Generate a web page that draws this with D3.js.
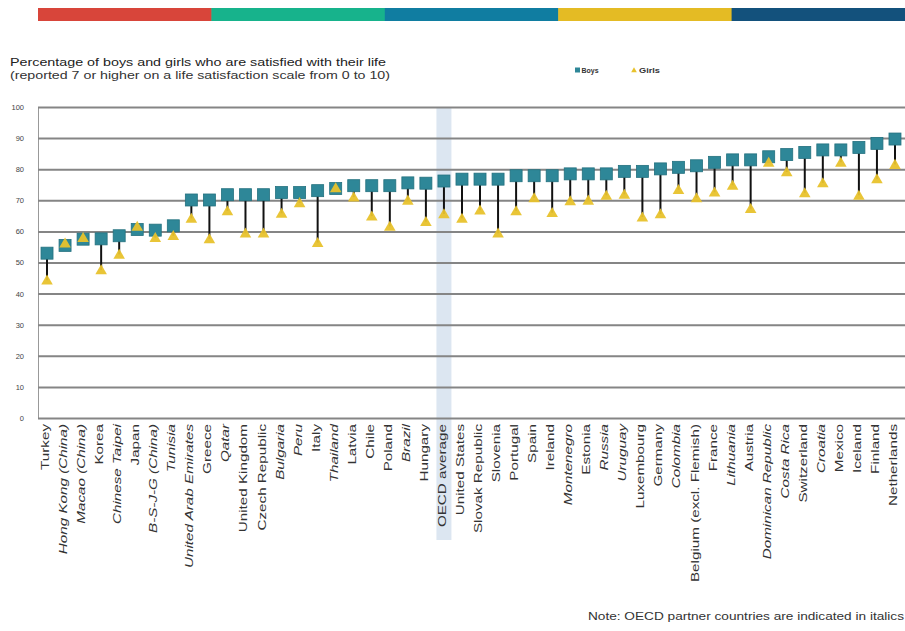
<!DOCTYPE html>
<html>
<head>
<meta charset="utf-8">
<script src="https://cdn.jsdelivr.net/npm/d3@7"></script>
<style>
  html, body { margin: 0; padding: 0; background: #fff; }
  svg { display: block; font-family: "Liberation Sans", Arial, sans-serif; }
</style>
</head>
<body>
<svg id="chart" width="905" height="631"></svg>
<script>
// Countries, ordered by boys' share
const countries = [
  "Turkey", "Hong Kong (China)", "Macao (China)", "Korea", "Chinese Taipei", "Japan",
  "B-S-J-G (China)", "Tunisia", "United Arab Emirates", "Greece", "Qatar", "United Kingdom",
  "Czech Republic", "Bulgaria", "Peru", "Italy", "Thailand", "Latvia", "Chile", "Poland",
  "Brazil", "Hungary", "OECD average", "United States", "Slovak Republic", "Slovenia",
  "Portugal", "Spain", "Ireland", "Montenegro", "Estonia", "Russia", "Uruguay", "Luxembourg",
  "Germany", "Colombia", "Belgium (excl. Flemish)", "France", "Lithuania", "Austria",
  "Dominican Republic", "Costa Rica", "Switzerland", "Croatia", "Mexico", "Iceland",
  "Finland", "Netherlands"
];

// Partner (non-OECD) economies, set in italics
const partners = [
  "Hong Kong (China)", "Macao (China)", "Chinese Taipei", "B-S-J-G (China)", "Tunisia",
  "United Arab Emirates", "Qatar", "Bulgaria", "Peru", "Thailand", "Brazil", "Montenegro",
  "Russia", "Uruguay", "Colombia", "Lithuania", "Dominican Republic", "Costa Rica", "Croatia"
];

// Percentage satisfied with life (7+ on 0-10 scale)
const boys = [
  53.0, 55.5, 57.5, 57.6, 58.6, 60.6, 60.4, 61.8, 70.1, 70.1, 71.8, 71.8,
  71.8, 72.5, 72.5, 73.1, 73.8, 74.7, 74.7, 74.7, 75.6, 75.5, 76.2, 76.8,
  76.8, 76.8, 77.9, 77.9, 77.9, 78.5, 78.5, 78.5, 79.3, 79.3, 80.1, 80.6,
  81.1, 82.2, 83.0, 83.0, 84.0, 84.7, 85.4, 86.2, 86.2, 87.0, 88.3, 89.7
];
const girls = [
  44.3, 56.2, 58.0, 47.6, 52.6, 61.6, 58.0, 58.6, 64.2, 57.6, 66.6, 59.4,
  59.4, 65.8, 69.2, 56.4, 74.0, 71.0, 64.9, 61.6, 70.0, 63.1, 65.6, 64.2,
  66.8, 59.4, 66.6, 70.8, 66.0, 69.8, 70.0, 71.6, 71.9, 64.6, 65.6, 73.4,
  70.8, 72.6, 74.8, 67.3, 82.2, 79.1, 72.4, 75.6, 82.2, 71.6, 76.9, 81.5
];

const yTicks = [0, 10, 20, 30, 40, 50, 60, 70, 80, 90, 100];
const stripeColors = ["#d8453a", "#17b38c", "#107da1", "#e4bb24", "#13517c"];

const titleLines = [
  "Percentage of boys and girls who are satisfied with their life",
  "(reported 7 or higher on a life satisfaction scale from 0 to 10)"
];
const legendLabels = ["Boys", "Girls"];
const note = "Note: OECD partner countries are indicated in italics";

const boyColor = "#2e8798";
const boyStroke = "#24717f";
const girlColor = "#e8c22c";

const svg = d3.select("#chart");
const plot = { left: 38, right: 904, top: 107, bottom: 418 };

const x = d3.scaleBand().domain(countries).range([plot.left, plot.right]).padding(0);
const y = d3.scaleLinear().domain([0, 100]).range([plot.bottom, plot.top]);
const cx = c => x(c) + x.bandwidth() / 2;

// Decorative stripe across the top
const stripe = d3.scaleBand().domain(d3.range(stripeColors.length)).range([38, 905]);
svg.append("g").selectAll("rect").data(stripeColors).join("rect")
  .attr("x", (d, i) => stripe(i)).attr("y", 8)
  .attr("width", stripe.bandwidth() + 0.5).attr("height", 13)
  .attr("fill", d => d);

// Title
svg.append("g").selectAll("text").data(titleLines).join("text")
  .attr("x", 10).attr("y", (d, i) => 66 + i * 12.5)
  .attr("font-size", 10.5).attr("fill", (d, i) => i === 0 ? "#222" : "#333")
  .attr("textLength", (d, i) => i === 0 ? 376 : 380)
  .attr("lengthAdjust", "spacingAndGlyphs")
  .text(d => d);

// Legend
const legend = svg.append("g");
legend.append("rect").attr("x", 575).attr("y", 67.5).attr("width", 5).attr("height", 5).attr("fill", boyColor);
legend.append("text").attr("x", 581.5).attr("y", 73).attr("font-size", 8).attr("font-weight", 700)
  .attr("fill", "#333").attr("textLength", 17).attr("lengthAdjust", "spacingAndGlyphs").text(legendLabels[0]);
legend.append("path").attr("d", d3.symbol(d3.symbolTriangle, 14)())
  .attr("transform", "translate(634,70.5)").attr("fill", girlColor);
legend.append("text").attr("x", 639).attr("y", 73).attr("font-size", 8).attr("font-weight", 700)
  .attr("fill", "#333").attr("textLength", 21).attr("lengthAdjust", "spacingAndGlyphs").text(legendLabels[1]);

// OECD average highlight band
const oecd = "OECD average";
svg.append("rect")
  .attr("x", cx(oecd) - 7.5).attr("y", plot.top)
  .attr("width", 15).attr("height", 540 - plot.top)
  .attr("fill", "#dce6f1");

// Gridlines and y-axis
const yAxis = d3.axisLeft(y).tickValues(yTicks).tickSize(-(plot.right + 1 - plot.left)).tickPadding(6);
const gy = svg.append("g").attr("transform", `translate(${plot.left},0)`).call(yAxis);
gy.select(".domain").attr("stroke", "#999").attr("stroke-width", 1);
gy.selectAll(".tick line").attr("stroke", "#858585").attr("stroke-width", 2);
gy.selectAll(".tick text").attr("font-size", 7.5).attr("fill", "#444").attr("x", -14);

// Boys-to-girls connectors
svg.append("g").selectAll("line").data(countries).join("line")
  .attr("x1", cx).attr("x2", cx)
  .attr("y1", (d, i) => y(boys[i])).attr("y2", (d, i) => y(girls[i]))
  .attr("stroke", "#111").attr("stroke-width", 2);

// Boys: squares
svg.append("g").selectAll("rect").data(countries).join("rect")
  .attr("x", d => cx(d) - 6).attr("y", (d, i) => y(boys[i]) - 6)
  .attr("width", 12).attr("height", 12)
  .attr("fill", boyColor).attr("stroke", boyStroke).attr("stroke-width", 0.8);

// Girls: triangles
const tri = d3.symbol(d3.symbolTriangle, 58)();
svg.append("g").selectAll("path").data(countries).join("path")
  .attr("d", tri)
  .attr("transform", (d, i) => `translate(${cx(d)},${y(girls[i]) + 1})`)
  .attr("fill", girlColor).attr("fill-opacity", 0.95);

// Category labels, rotated
svg.append("g").selectAll("text").data(countries).join("text")
  .attr("transform", d => `translate(${cx(d) + 2},424) rotate(-90) scale(1.45,1)`)
  .attr("text-anchor", "end")
  .attr("font-size", 10.5).attr("fill", "#333")
  .attr("font-style", d => partners.includes(d) ? "italic" : "normal")
  .text(d => d);

// Footnote
svg.append("text").attr("x", 588).attr("y", 620)
  .attr("font-size", 10.5).attr("fill", "#333")
  .attr("textLength", 316).attr("lengthAdjust", "spacingAndGlyphs")
  .text(note);
</script>
</body>
</html>
